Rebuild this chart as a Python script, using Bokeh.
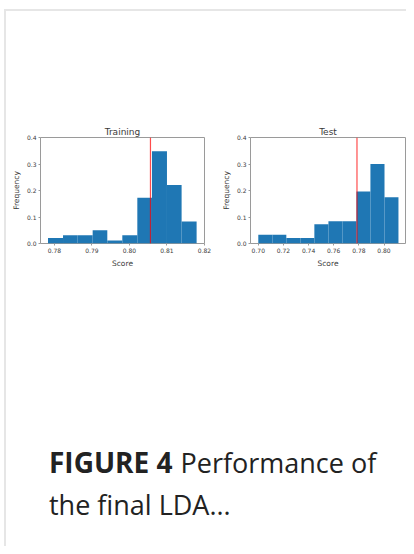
from bokeh.plotting import figure
from bokeh.layouts import column, row
from bokeh.models import Range1d, FixedTicker, Span, Spacer, NumeralTickFormatter
from bokeh.core.properties import value
from bokeh.embed import file_html
from bokeh.resources import INLINE

# ---- data ----
train_edges = [0.7783, 0.7823, 0.7862, 0.7902, 0.7941, 0.7981, 0.8021, 0.8060, 0.8100, 0.8139, 0.8179]
train_freq = [0.021, 0.031, 0.031, 0.050, 0.011, 0.031, 0.173, 0.348, 0.221, 0.083]
train_threshold = 0.8056
train_ticks = [0.78, 0.79, 0.80, 0.81, 0.82]
train_tick_labels = ["0.78", "0.79", "0.80", "0.81", "0.82"]
train_xlim = (0.7763, 0.8200)

test_edges = [0.7000, 0.7112, 0.7223, 0.7335, 0.7446, 0.7558, 0.7669, 0.7781, 0.7892, 0.8004, 0.8115]
test_freq = [0.033, 0.033, 0.021, 0.021, 0.073, 0.084, 0.084, 0.196, 0.300, 0.175]
test_threshold = 0.7785
test_ticks = [0.70, 0.72, 0.74, 0.76, 0.78, 0.80]
test_tick_labels = ["0.70", "0.72", "0.74", "0.76", "0.78", "0.80"]
test_xlim = (0.6938, 0.8171)

freq_ticks = [0.0, 0.1, 0.2, 0.3, 0.4]
freq_tick_labels = ["0.0", "0.1", "0.2", "0.3", "0.4"]
freq_lim = (0.0, 0.4)

panel_titles = ["Training", "Test"]
x_label = "Score"
y_label = "Frequency"
caption_bold = "FIGURE 4"
caption_rest = "Performance of"
caption_line2 = "the final LDA..."

BAR = "#1f77b4"
FRAME = "#9a9a9a"
TXT = "#3a3a3a"
MPL_FONT = "DejaVu Sans"


def hist_fig(title, edges, freq, thr, ticks, tick_labels, xlim, width, left, right):
    p = figure(width=width, height=152, x_range=Range1d(*xlim), y_range=Range1d(*freq_lim),
               output_backend="svg", toolbar_location=None,
               min_border_left=left, min_border_right=right,
               min_border_top=19, min_border_bottom=24,
               background_fill_color="white", border_fill_color="white")
    p.quad(left=edges[:-1], right=edges[1:], bottom=0, top=freq,
           fill_color=BAR, line_color=None)
    p.add_layout(Span(location=thr, dimension="height", line_color="red",
                      line_width=1.2, line_alpha=0.7))
    p.grid.visible = False
    p.outline_line_color = FRAME
    p.outline_line_width = 1
    p.outline_line_alpha = 1

    p.title.text = title
    p.title.align = "center"
    p.title.text_font = MPL_FONT
    p.title.text_font_size = "9px"
    p.title.text_font_style = "normal"
    p.title.text_color = TXT
    p.title.standoff = 1

    p.xaxis.ticker = FixedTicker(ticks=ticks)
    p.xaxis.formatter = NumeralTickFormatter(format="0.00")
    p.xaxis.major_label_overrides = dict(zip(ticks, tick_labels))
    p.yaxis.ticker = FixedTicker(ticks=freq_ticks)
    p.yaxis.formatter = NumeralTickFormatter(format="0.0")
    p.yaxis.major_label_overrides = dict(zip(freq_ticks, freq_tick_labels))
    p.xaxis.axis_label = x_label
    p.yaxis.axis_label = y_label
    for ax in (p.xaxis[0], p.yaxis[0]):
        ax.axis_line_color = None
        ax.major_tick_line_color = FRAME
        ax.major_tick_out = 2
        ax.major_tick_in = 0
        ax.minor_tick_line_color = None
        ax.major_label_text_font = MPL_FONT
        ax.major_label_text_font_size = "6px"
        ax.major_label_text_color = TXT
        ax.major_label_standoff = 2
        ax.axis_label_text_font = MPL_FONT
        ax.axis_label_text_font_size = "7.5px"
        ax.axis_label_text_font_style = "normal"
        ax.axis_label_text_color = TXT
        ax.axis_label_standoff = 3
    return p


p_train = hist_fig(panel_titles[0], train_edges, train_freq, train_threshold,
                   train_ticks, train_tick_labels, train_xlim, 212, 34, 14)
p_test = hist_fig(panel_titles[1], test_edges, test_freq, test_threshold,
                  test_ticks, test_tick_labels, test_xlim, 188, 24, 1)

# caption area (pixel coordinates, y downwards)
cap = figure(width=400, height=276, x_range=Range1d(0, 400), y_range=Range1d(276, 0),
             output_backend="svg", toolbar_location=None, min_border=0,
             background_fill_color="white", border_fill_color="white")
cap.axis.visible = False
cap.grid.visible = False
cap.outline_line_color = None
cap.text(x=[42.5], y=[191.5], text=[caption_bold], text_font=value("Open Sans"),
         text_font_size="28px", text_font_style="bold", text_color="#222222",
         text_baseline="alphabetic", text_align="left")
cap.text(x=[174], y=[191.5], text=[caption_rest], text_font=value("Open Sans"),
         text_font_size="27px", text_color="#222222",
         text_baseline="alphabetic", text_align="left")
cap.text(x=[42.5], y=[234], text=[caption_line2], text_font=value("Open Sans"),
         text_font_size="27px", text_color="#222222",
         text_baseline="alphabetic", text_align="left")

layout = column(
    Spacer(width=400, height=107),
    row(p_train, p_test, spacing=0),
    cap,
    spacing=0,
    styles={"margin-left": "4px", "margin-top": "9px",
            "border-left": "2px solid #e6e6e6", "border-top": "2px solid #e6e6e6"},
)

open("out.html", "w").write(file_html(layout, INLINE))
